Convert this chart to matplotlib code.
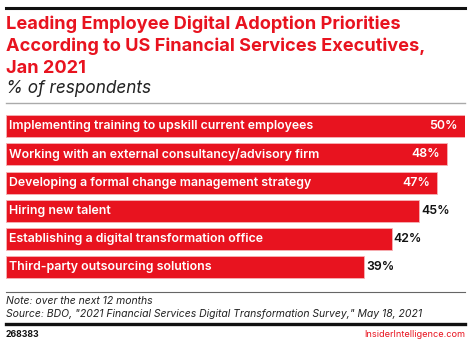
import matplotlib
matplotlib.use("Agg")
import matplotlib.pyplot as plt
from matplotlib.lines import Line2D

labels = [
    "Implementing training to upskill current employees",
    "Working with an external consultancy/advisory firm",
    "Developing a formal change management strategy",
    "Hiring new talent",
    "Establishing a digital transformation office",
    "Third-party outsourcing solutions",
]
values = [50, 48, 47, 45, 42, 39]
inside = [True, True, True, False, False, False]

title_lines = [
    "Leading Employee Digital Adoption Priorities",
    "According to US Financial Services Executives,",
    "Jan 2021",
]
subtitle = "% of respondents"
note = "Note: over the next 12 months"
source = 'Source: BDO, "2021 Financial Services Digital Transformation Survey," May 18, 2021'
chart_id = "268383"
brand = "InsiderIntelligence.com"

RED = "#e8131f"
W, H = 470, 342
plt.rcParams["font.family"] = ["Inter", "DejaVu Sans"]

fig = plt.figure(figsize=(W / 100, H / 100), dpi=100)

def fx(px):
    return px / W

def fy(py):
    return 1 - py / H

def hline(py, color, lw, x0=6, x1=465):
    fig.add_artist(Line2D([fx(x0), fx(x1)], [fy(py), fy(py)], color=color,
                          linewidth=lw, transform=fig.transFigure))

# rules
hline(7.5, "#111111", 2.2)
hline(103, "#aaaaaa", 1.0)
hline(291.5, "#666666", 0.8)
hline(324, "#111111", 2.4)

# title block
for i, line in enumerate(title_lines):
    fig.text(fx(6), fy(29 + i * 22), line, color=RED, fontsize=13.1,
             fontweight="bold", va="baseline", ha="left")
fig.text(fx(6), fy(93), subtitle, color="#222222", fontsize=12.4,
         fontstyle="italic", va="baseline", ha="left")

# bars
ax = fig.add_axes([fx(6), fy(281.6), fx(465) - fx(6), (281.6 - 111.9) / H])
ypos = list(range(len(values)))
ax.barh(ypos, values, height=0.78, color=RED, edgecolor="#f6b3b6",
        linewidth=0.6)
ax.set_xlim(0, 50)
ax.set_ylim(len(values) - 0.5, -0.5)
ax.axis("off")

for y, lab, v, ins in zip(ypos, labels, values, inside):
    ax.text(0.35, y, lab, color="white", fontsize=8.9, fontweight="semibold",
            va="center", ha="left")
    if ins:
        ax.text(v - 0.75, y, f"{v}%", color="white", fontsize=8.9,
                fontweight="semibold", va="center", ha="right")
    else:
        ax.text(v + 0.2, y, f"{v}%", color="#111111", fontsize=8.9,
                fontweight="semibold", va="center", ha="left")

# footer
fig.text(fx(6), fy(304.5), note, color="#222222", fontsize=7.5,
         fontstyle="italic", va="baseline", ha="left")
fig.text(fx(6), fy(317), source, color="#222222", fontsize=7.5,
         fontstyle="italic", va="baseline", ha="left")
fig.text(fx(6), fy(337), chart_id, color="#111111", fontsize=6.3,
         fontweight="bold", va="baseline", ha="left")
fig.text(fx(465), fy(337), brand, color=RED, fontsize=6.6,
         va="baseline", ha="right")

fig.savefig("out.png", dpi=100)
